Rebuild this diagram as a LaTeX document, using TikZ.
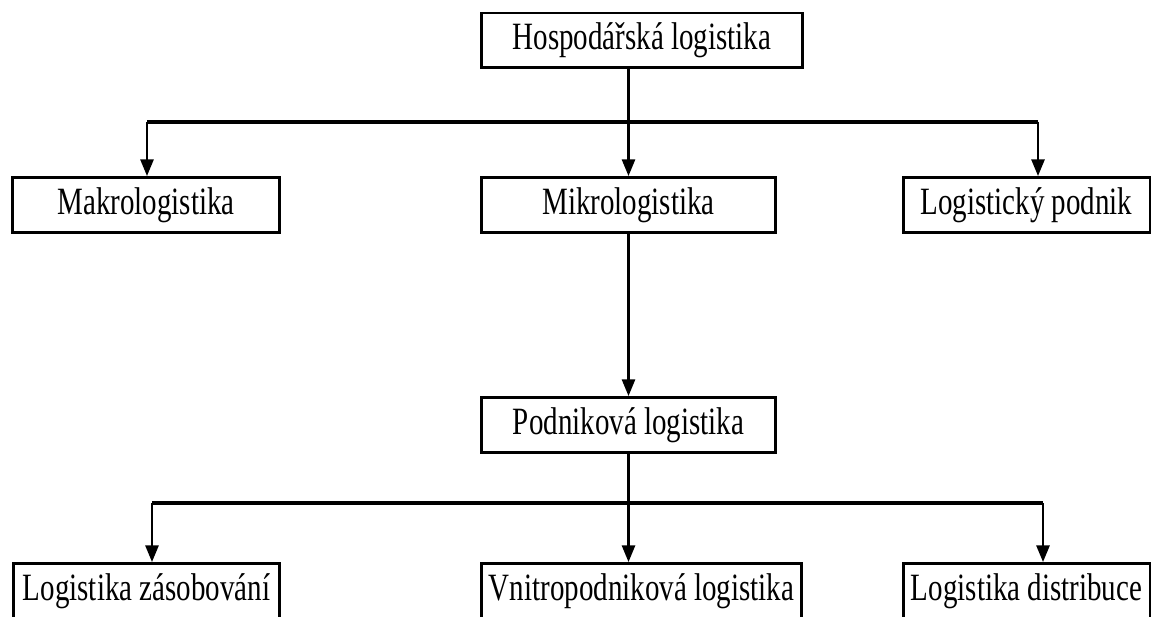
\documentclass[tikz,border=0pt]{standalone}
\usepackage{fontspec}
\setmainfont{Liberation Serif}[FakeStretch=0.75]
\usepackage{tikz}
\usetikzlibrary{arrows.meta,positioning}
\tikzstyle{box} = [draw, line width=1.7pt, inner sep=0pt, minimum height=1.1cm, font=\fontsize{22}{24}\selectfont]
\tikzstyle{bar} = [line width=2.4pt]
\tikzstyle{arrow} = [line width=1.3pt, -{Triangle[length=9.5pt,width=7.5pt]}]

\begin{document}
\begin{tikzpicture}[x=0.02cm, y=-0.02cm]
\useasboundingbox (0,0) rectangle (1151,617);
\clip (0,0) rectangle (1151,617);
% Levels
\node[box, minimum width=6.44cm] (hosp) at (642,40.5) {Hospodářská logistika};
\node[box, minimum width=5.36cm] (makro) at (146,205) {Makrologistika};
\node[box, minimum width=5.9cm] (mikro) at (628.5,205) {Mikrologistika};
\node[box, minimum width=4.94cm] (podnik) at (1026.5,205) {Logistický podnik};
\node[box, minimum width=5.9cm] (podnikova) at (628.5,425) {Podniková logistika};
\node[box, minimum width=5.34cm] (zasob) at (146.5,591) {Logistika zásobování};
\node[box, minimum width=6.42cm] (vnitro) at (641.5,591) {Vnitropodniková logistika};
\node[box, minimum width=4.94cm] (distrib) at (1026.5,591) {Logistika distribuce};

% Branching
\coordinate (barL) at (147,122);
\coordinate (barR) at (1038,122);
\coordinate (lowL) at (152,503);
\coordinate (lowR) at (1043,503);

\draw[arrow] (hosp.south -| mikro.north) -- (mikro.north);
\draw[bar] (barL) -- (barR);
\draw[arrow] (barL) -- (barL |- makro.north);
\draw[arrow] (barR) -- (barR |- podnik.north);

\draw[arrow] (mikro.south) -- (podnikova.north);

\draw[arrow] (podnikova.south) -- (podnikova.south |- vnitro.north);
\draw[bar] (lowL) -- (lowR);
\draw[arrow] (lowL) -- (lowL |- zasob.north);
\draw[arrow] (lowR) -- (lowR |- distrib.north);
\end{tikzpicture}
\end{document}
